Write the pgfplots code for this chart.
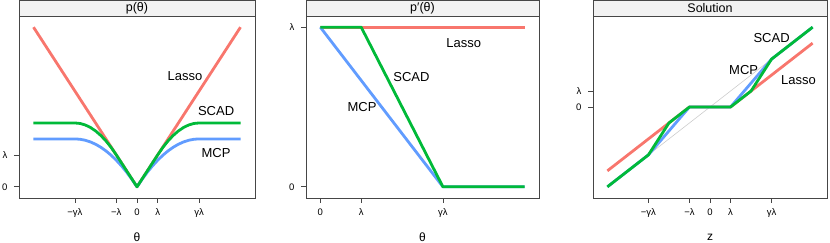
\documentclass[border=0pt]{standalone}
\usepackage{pgfplots}
\pgfplotsset{compat=1.18}
\usepackage{fontspec}
\setmainfont{Liberation Sans}
\definecolor{lasso}{RGB}{248,118,109}
\definecolor{mcp}{RGB}{97,156,255}
\definecolor{scad}{RGB}{0,186,56}
\definecolor{axgray}{RGB}{70,70,70}
\definecolor{stripgray}{RGB}{242,242,242}
\pgfplotsset{
  panel/.style={
    scale only axis, clip=false,
    axis line style={axgray, line width=0.7pt},
    tick align=outside, major tick length=5pt,
    xtick pos=bottom, ytick pos=left,
    tick style={axgray, line width=0.7pt},
    ticklabel style={font=\fontsize{9.5}{10}\selectfont},
    xticklabel style={yshift=-2pt},
    yticklabel style={xshift=-3pt},
    xlabel style={at={(axis description cs:0.5,0)}, anchor=center, yshift=-39pt, font=\fontsize{12}{13}\selectfont},
    every axis plot/.append style={line width=2.8pt, line join=round},
  },
}
\newcommand{\strip}[1]{%
  \draw[axgray, line width=0.7pt, fill=stripgray] (rel axis cs:0,1) rectangle ([yshift=16pt]rel axis cs:1,1);
  \node[font=\fontsize{12.5}{13}\selectfont] at ([yshift=8pt]rel axis cs:0.5,1) {#1};}
\newcommand{\lab}[2]{\node[font=\fontsize{13}{14}\selectfont] at (axis cs:#1) {#2};}
\begin{document}
\begin{tikzpicture}
\useasboundingbox (0,0) rectangle (830pt,243pt);
% Panel 1: penalty
\begin{axis}[panel, at={(19pt,45pt)}, anchor=south west, width=236pt, height=182pt,
  xmin=-5.7, xmax=5.7, ymin=-0.35, ymax=5.35,
  xtick={-3,-1,0,1,3}, xticklabels={−γλ,−λ,0,λ,γλ},
  ytick={0,1}, yticklabels={0,λ}, xlabel={θ}]
\addplot[lasso] coordinates {(-5,5) (0,0) (5,5)};
\addplot[mcp] coordinates {(-5,1.5) (-3,1.5) (-2.75,1.4896) (-2.5,1.4583) (-2.25,1.4063) (-2,1.3333) (-1.75,1.2396) (-1.5,1.125) (-1.25,0.9896) (-1,0.8333) (-0.75,0.6563) (-0.5,0.4583) (-0.25,0.2396) (0,0) (0.25,0.2396) (0.5,0.4583) (0.75,0.6563) (1,0.8333) (1.25,0.9896) (1.5,1.125) (1.75,1.2396) (2,1.3333) (2.25,1.4063) (2.5,1.4583) (2.75,1.4896) (3,1.5) (5,1.5)};
\addplot[scad] coordinates {(-5,2) (-3,2) (-2.75,1.9844) (-2.5,1.9375) (-2.25,1.8594) (-2,1.75) (-1.75,1.6094) (-1.5,1.4375) (-1.25,1.2344) (-1,1) (0,0) (1,1) (1.25,1.2344) (1.5,1.4375) (1.75,1.6094) (2,1.75) (2.25,1.8594) (2.5,1.9375) (2.75,1.9844) (3,2) (5,2)};
\lab{2.32,3.47}{Lasso}
\lab{3.82,2.375}{SCAD}
\lab{3.82,1.06}{MCP}
\strip{p(θ)}
\end{axis}
% Panel 2: derivative
\begin{axis}[panel, at={(306pt,45pt)}, anchor=south west, width=233pt, height=182pt,
  xmin=-0.35, xmax=5.35, ymin=-0.07, ymax=1.07,
  xtick={0,1,3}, xticklabels={0,λ,γλ},
  ytick={0,1}, yticklabels={0,λ}, xlabel={θ}]
\addplot[lasso] coordinates {(0,1) (5,1)};
\addplot[mcp] coordinates {(0,1) (3,0) (5,0)};
\addplot[scad] coordinates {(0,1) (1,1) (3,0) (5,0)};
\lab{3.51,0.90}{Lasso}
\lab{2.23,0.69}{SCAD}
\lab{1.02,0.50}{MCP}
\strip{p′(θ)}
\end{axis}
% Panel 3: solution
\begin{axis}[panel, at={(593pt,45pt)}, anchor=south west, width=234pt, height=182pt,
  xmin=-5.7, xmax=5.7, ymin=-5.7, ymax=5.7,
  xtick={-3,-1,0,1,3}, xticklabels={−γλ,−λ,0,λ,γλ},
  ytick={0,1}, yticklabels={0,λ}, xlabel={z}]
\addplot[black!20, line width=0.6pt] coordinates {(-3,-3) (3,3)};
\addplot[lasso] coordinates {(-5,-4) (-1,0) (1,0) (5,4)};
\addplot[mcp] coordinates {(-5,-5) (-3,-3) (-1,0) (1,0) (3,3) (5,5)};
\addplot[scad] coordinates {(-5,-5) (-3,-3) (-2,-1) (-1,0) (1,0) (2,1) (3,3) (5,5)};
\lab{3.0,4.31}{SCAD}
\lab{1.64,2.31}{MCP}
\lab{4.31,1.69}{Lasso}
\strip{Solution}
\end{axis}
\end{tikzpicture}
\end{document}
